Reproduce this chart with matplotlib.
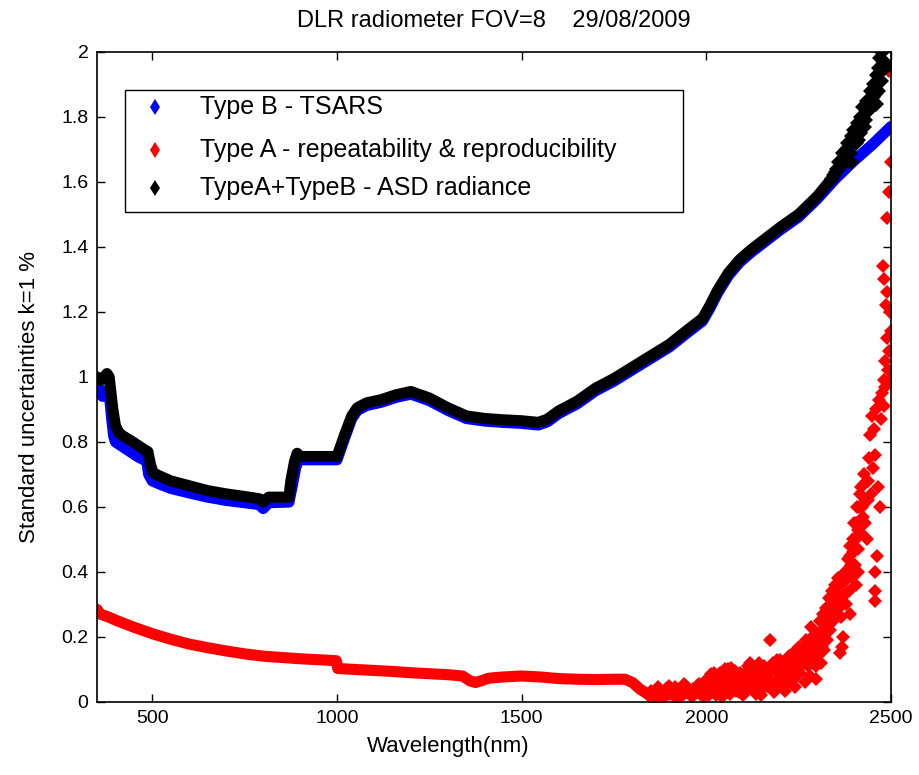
import numpy as np
import matplotlib
matplotlib.use("Agg")
import matplotlib.pyplot as plt
from matplotlib.patches import Rectangle
from matplotlib.ticker import FormatStrFormatter

plt.rcParams['font.family'] = ['Liberation Sans', 'DejaVu Sans']

# Type A + Type B (ASD radiance), smooth part
wl_ab = [350, 360, 370, 377, 383, 388, 393, 400, 408, 418, 440, 460, 480, 488, 495, 502,
         520, 550, 600, 650, 700, 750, 790, 800, 815, 870, 875, 885, 892, 900, 950, 1000,
         1020, 1040, 1055, 1080, 1120, 1160, 1200, 1250, 1300, 1350, 1400, 1450, 1500,
         1545, 1570, 1600, 1650, 1700, 1750, 1800, 1850, 1900, 1950, 1990, 2010, 2030,
         2060, 2090, 2120, 2160, 2200, 2250, 2300, 2340]
u_ab = [1.00, 0.99, 1.00, 1.01, 1.00, 0.95, 0.90, 0.85, 0.83, 0.82, 0.805, 0.79, 0.775, 0.77,
        0.73, 0.705, 0.695, 0.68, 0.665, 0.65, 0.64, 0.632, 0.625, 0.615, 0.63, 0.63, 0.68,
        0.74, 0.765, 0.755, 0.755, 0.755, 0.82, 0.88, 0.905, 0.92, 0.93, 0.945, 0.955, 0.935,
        0.905, 0.88, 0.872, 0.868, 0.865, 0.86, 0.87, 0.895, 0.925, 0.965, 0.995, 1.03,
        1.065, 1.10, 1.145, 1.18, 1.22, 1.265, 1.32, 1.36, 1.39, 1.425, 1.46, 1.50, 1.555, 1.61]

# Type A + Type B, noisy tail
wl_ab_tail = [2340, 2345, 2350, 2355, 2360, 2365, 2370, 2375, 2380, 2385, 2390, 2395, 2400,
              2405, 2410, 2415, 2420, 2425, 2430, 2435, 2440, 2445, 2450, 2455, 2460, 2462,
              2465, 2468, 2472, 2476, 2480, 2485, 2490, 2392, 2412, 2428, 2448, 2458, 2470]
u_ab_tail = [1.61, 1.62, 1.63, 1.64, 1.66, 1.65, 1.69, 1.67, 1.70, 1.72, 1.69, 1.74, 1.76,
             1.72, 1.78, 1.75, 1.80, 1.83, 1.79, 1.85, 1.82, 1.88, 1.86, 1.90, 1.84, 1.93,
             1.88, 1.95, 1.91, 2.00, 1.97, 1.95, 1.96, 1.66, 1.73, 1.77, 1.84, 1.87, 1.98]

# Type B (TSARS)
wl_b = [350, 360, 365, 372, 380, 385, 390, 395, 400, 420, 440, 460, 485, 490, 500, 520, 550,
        600, 650, 700, 750, 790, 800, 815, 870, 878, 888, 895, 1000, 1020, 1040, 1055, 1080,
        1120, 1160, 1200, 1250, 1300, 1350, 1400, 1450, 1500, 1545, 1570, 1600, 1650, 1700,
        1750, 1800, 1850, 1900, 1950, 1990, 2010, 2030, 2060, 2090, 2120, 2160, 2200, 2250,
        2300, 2350, 2400, 2450, 2500]
u_b = [0.955, 0.96, 0.94, 0.955, 0.95, 0.93, 0.87, 0.82, 0.80, 0.785, 0.77, 0.755, 0.74,
       0.70, 0.68, 0.67, 0.657, 0.643, 0.63, 0.62, 0.613, 0.607, 0.595, 0.613, 0.615, 0.66,
       0.72, 0.745, 0.745, 0.81, 0.872, 0.897, 0.912, 0.922, 0.937, 0.947, 0.927, 0.897,
       0.872, 0.864, 0.86, 0.857, 0.852, 0.862, 0.887, 0.917, 0.957, 0.987, 1.022, 1.057,
       1.092, 1.137, 1.172, 1.212, 1.257, 1.312, 1.352, 1.382, 1.417, 1.452, 1.492, 1.547,
       1.61, 1.665, 1.715, 1.77]

# Type A (repeatability & reproducibility), smooth part
wl_a = [350, 360, 380, 400, 420, 450, 500, 550, 600, 650, 700, 750, 800, 850, 900, 950, 998,
        1002, 1050, 1100, 1150, 1200, 1250, 1300, 1340, 1360, 1375, 1390, 1410, 1450, 1500,
        1550, 1600, 1650, 1700, 1750, 1780, 1800, 1820, 1840]
u_a = [0.285, 0.27, 0.262, 0.252, 0.243, 0.23, 0.21, 0.193, 0.178, 0.167, 0.157, 0.148, 0.141,
       0.137, 0.133, 0.13, 0.127, 0.103, 0.1, 0.097, 0.094, 0.09, 0.087, 0.084, 0.08, 0.065,
       0.06, 0.065, 0.073, 0.077, 0.08, 0.077, 0.072, 0.07, 0.069, 0.07, 0.07, 0.06, 0.04, 0.025]

# Type A, noisy part (1840-2500 nm)
wl_a_tail = [1845, 1850, 1856, 1862, 1868, 1874, 1880, 1886, 1892, 1898, 1904, 1910, 1916,
             1922, 1928, 1934, 1940, 1946, 1952, 1958, 1964, 1970, 1976, 1982, 1988, 1994,
             1850, 1870, 1890, 1900, 1920, 1940, 1960, 1980, 1995,
             2000, 2005, 2010, 2015, 2020, 2025, 2030, 2035, 2040, 2045, 2050, 2055, 2060,
             2065, 2070, 2075, 2080, 2085, 2090, 2095, 2100, 2105, 2110, 2115, 2120, 2125,
             2130, 2135, 2140, 2145, 2150, 2155, 2160, 2012, 2042, 2068, 2098, 2118, 2148,
             2002, 2008, 2018, 2022, 2028, 2032, 2038, 2048, 2052, 2058, 2062, 2072, 2078,
             2082, 2088, 2092, 2102, 2108, 2112, 2122, 2128, 2132, 2138, 2142, 2152, 2158,
             2165, 2170, 2172, 2175, 2180, 2185, 2190, 2195, 2200, 2205, 2210, 2215, 2220,
             2225, 2230, 2235, 2240, 2182, 2198, 2212, 2228,
             2162, 2168, 2178, 2188, 2192, 2202, 2208, 2218, 2222, 2232, 2238,
             2245, 2250, 2255, 2262, 2266, 2270, 2274, 2278, 2284, 2282, 2286, 2290, 2294,
             2298, 2300,
             2242, 2248, 2252, 2258, 2264, 2268, 2276, 2280, 2288, 2292, 2296,
             2302, 2306, 2310, 2314, 2318, 2322, 2326, 2330, 2334, 2338, 2342, 2346, 2350,
             2354, 2358, 2362, 2366, 2370, 2374, 2378, 2368,
             2304, 2308, 2312, 2316, 2320, 2324, 2328, 2332, 2336, 2340, 2344, 2348, 2352,
             2356, 2360, 2364, 2372, 2376,
             2382, 2386, 2389, 2390, 2394, 2398, 2402, 2406, 2410, 2414, 2418, 2420, 2424,
             2428, 2432, 2436, 2438,
             2384, 2388, 2392, 2396, 2400, 2404, 2408, 2412, 2416, 2422, 2426, 2430, 2434,
             2439, 2404, 2412,
             2440, 2443, 2446, 2449, 2452, 2455, 2457, 2457, 2457, 2457, 2460, 2462, 2464,
             2467, 2470, 2473, 2476, 2478, 2480, 2482, 2484, 2486, 2488, 2490, 2492, 2494,
             2495, 2496, 2497, 2498, 2499, 2500, 2485, 2490, 2480]
u_a_tail = [0.02, 0.035, 0.015, 0.03, 0.045, 0.02, 0.03, 0.015, 0.04, 0.025, 0.035, 0.02, 0.045,
            0.03, 0.015, 0.04, 0.025, 0.05, 0.03, 0.02, 0.04, 0.03, 0.05, 0.025, 0.04, 0.03,
            0.012, 0.01, 0.02, 0.05, 0.01, 0.055, 0.015, 0.055, 0.015,
            0.04, 0.06, 0.03, 0.07, 0.045, 0.02, 0.08, 0.05, 0.035, 0.065, 0.1, 0.04, 0.06,
            0.025, 0.08, 0.05, 0.035, 0.07, 0.09, 0.045, 0.06, 0.03, 0.08, 0.055, 0.1, 0.04,
            0.07, 0.025, 0.09, 0.06, 0.045, 0.11, 0.075, 0.085, 0.015, 0.105, 0.02, 0.12, 0.02,
            0.07, 0.02, 0.055, 0.09, 0.035, 0.06, 0.09, 0.03, 0.075, 0.1, 0.045, 0.06, 0.095,
            0.05, 0.03, 0.065, 0.085, 0.05, 0.11, 0.07, 0.1, 0.045, 0.06, 0.12, 0.08, 0.05,
            0.05, 0.09, 0.19, 0.065, 0.12, 0.04, 0.1, 0.07, 0.13, 0.05, 0.09, 0.11, 0.06,
            0.14, 0.08, 0.1, 0.045, 0.03, 0.085, 0.035, 0.12,
            0.1, 0.07, 0.1, 0.06, 0.13, 0.1, 0.07, 0.12, 0.09, 0.13, 0.07,
            0.13, 0.17, 0.09, 0.14, 0.06, 0.19, 0.11, 0.16, 0.23, 0.08, 0.2, 0.12, 0.14,
            0.07, 0.21,
            0.16, 0.1, 0.14, 0.12, 0.17, 0.13, 0.18, 0.14, 0.16, 0.19, 0.11,
            0.14, 0.18, 0.12, 0.22, 0.16, 0.25, 0.19, 0.28, 0.22, 0.3, 0.25, 0.33, 0.27,
            0.35, 0.29, 0.15, 0.32, 0.2, 0.37, 0.3, 0.17,
            0.21, 0.25, 0.17, 0.27, 0.2, 0.29, 0.23, 0.32, 0.26, 0.34, 0.28, 0.36, 0.31,
            0.38, 0.33, 0.26, 0.33, 0.4,
            0.4, 0.34, 0.27, 0.45, 0.38, 0.5, 0.42, 0.55, 0.47, 0.6, 0.52, 0.66, 0.57,
            0.7, 0.62, 0.5, 0.68,
            0.44, 0.48, 0.42, 0.46, 0.55, 0.5, 0.6, 0.53, 0.64, 0.6, 0.67, 0.55, 0.68,
            0.62, 0.36, 0.4,
            0.75, 0.82, 0.64, 0.88, 0.72, 0.84, 0.76, 0.4, 0.34, 0.31, 0.9, 0.45, 0.66,
            0.93, 0.6, 0.87, 0.95, 1.34, 0.91, 1.3, 0.97, 1.22, 1.26, 1.49, 1.02, 1.08,
            1.57, 1.94, 1.2, 0.99, 1.66, 1.14, 1.05, 1.12, 0.99]

labels = ['Type B - TSARS', 'Type A - repeatability & reproducibility',
          'TypeA+TypeB - ASD radiance']
colors = ['#0000ff', '#ff0000', 'black']

fig = plt.figure(figsize=(9.19, 7.75), dpi=100)
ax = fig.add_axes([0.1055, 0.0942, 0.864, 0.839])

lw = 8
ms = 7
ax.plot(wl_b, u_b, '-', color=colors[0], lw=lw, solid_joinstyle='round', solid_capstyle='round')
ax.plot(wl_a, u_a, '-', color=colors[1], lw=lw, solid_joinstyle='round', solid_capstyle='round')
ax.plot(wl_a_tail, u_a_tail, 'D', color=colors[1], ms=ms, mew=0)
ax.plot(wl_ab, u_ab, '-', color=colors[2], lw=lw, solid_joinstyle='round', solid_capstyle='round')
ax.plot(wl_ab_tail, u_ab_tail, 'D', color=colors[2], ms=ms + 1, mew=0)

ax.set_xlim(350, 2500)
ax.set_ylim(0, 2)
ax.set_xticks([500, 1000, 1500, 2000, 2500])
ax.set_yticks(np.arange(0, 2.01, 0.2))
ax.yaxis.set_major_formatter(FormatStrFormatter('%g'))
ax.tick_params(direction='in', top=True, right=True, labelsize=14, length=6, width=1,
               pad=6)
for s in ax.spines.values():
    s.set_linewidth(1.2)

ax.set_xlabel('Wavelength(nm)', fontsize=16)
ax.xaxis.set_label_coords(0.442, -0.052)
ax.set_ylabel('Standard uncertainties k=1 %', fontsize=16)
ax.yaxis.set_label_coords(-0.072, 0.469)
ax.set_title('DLR radiometer FOV=8    29/08/2009', fontsize=17, pad=18)

# legend drawn by hand so the box matches the original
ax.add_patch(Rectangle((0.035, 0.754), 0.703, 0.1875, transform=ax.transAxes,
                       facecolor='white', edgecolor='black', lw=1.0, zorder=5))
rows = [0.915, 0.849, 0.791]
for lab, c, yy in zip(labels, colors, rows):
    ax.plot([0.073], [yy], 'd', color=c, ms=8, mew=0, transform=ax.transAxes, zorder=6)
    ax.text(0.1297, yy, lab, transform=ax.transAxes, fontsize=18, va='center', ha='left',
            zorder=6)

fig.savefig('out.png', dpi=100)
